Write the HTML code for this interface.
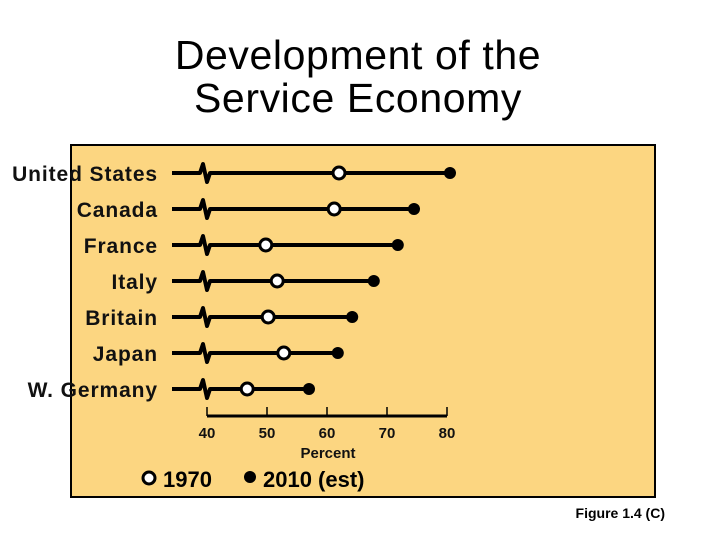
<!DOCTYPE html>
<html><head><meta charset="utf-8"><style>
body{margin:0;background:#fff;width:720px;height:540px;overflow:hidden}
svg{display:block;font-family:"Liberation Sans",Arial,sans-serif}
</style></head><body>
<svg id="chart" width="720" height="540">
<text x="358" y="69" font-size="41" text-anchor="middle" letter-spacing="0.6">Development of the</text>
<text x="358" y="112" font-size="41" text-anchor="middle" letter-spacing="0.6">Service Economy</text>
<rect x="71" y="145" width="584" height="352" fill="#fcd681" stroke="#000" stroke-width="2"/>
<g id="rows"></g>
<g id="axis"></g>
<text x="328" y="458" font-size="15" font-weight="bold" text-anchor="middle" fill="#111">Percent</text>
<g>
<circle cx="149" cy="478" r="6" fill="#fff" stroke="#000" stroke-width="3"/>
<text x="163" y="487" font-size="22" font-weight="bold">1970</text>
<circle cx="250" cy="477" r="6" fill="#000"/>
<text x="263" y="487" font-size="22" font-weight="bold">2010 (est)</text>
</g>
<text x="665" y="518" font-size="14" font-weight="bold" text-anchor="end">Figure 1.4 (C)</text>
</svg>
<script>
const countries=["United States","Canada","France","Italy","Britain","Japan","W. Germany"];
const v1970=[62,61.2,49.8,51.7,50.2,52.8,46.7];
const v2010=[80.5,74.5,71.8,67.8,64.2,61.8,57];
const ticks=[40,50,60,70,80];
const NS="http://www.w3.org/2000/svg";
const xs=v=>207+(v-40)*6;
const ys=i=>173+i*36;
function mk(t,a,p){const e=document.createElementNS(NS,t);for(const k in a)e.setAttribute(k,a[k]);p.appendChild(e);return e;}
const rows=document.getElementById('rows');
countries.forEach((c,i)=>{
  const y=ys(i);
  const g=mk('g',{},rows);
  
  
  const t=mk('text',{x:158,y:y+8,'font-size':21,'font-weight':'bold','text-anchor':'end','letter-spacing':0.9,fill:'#111'},g);
  t.textContent=c;
  
  
  const l=mk('path',{d:`M172 ${y}H200L203 ${y-9}L207 ${y+9}L210 ${y}H${xs(v2010[i])}`,stroke:'#000','stroke-width':4,fill:'none','stroke-linejoin':'round'},g);
  
  
  const f=mk('circle',{cx:xs(v2010[i]),cy:y,r:6,fill:'#000'},g);
  
  
  const o=mk('circle',{cx:xs(v1970[i]),cy:y,r:6,fill:'#fff',stroke:'#000','stroke-width':3},g);
  
  
});
const ax=document.getElementById('axis');
const al=mk('line',{x1:xs(40),x2:xs(80),y1:416,y2:416,stroke:'#000','stroke-width':3},ax);


ticks.forEach(t=>{
  const tk=mk('line',{x1:xs(t),x2:xs(t),y1:407,y2:416,stroke:'#000','stroke-width':1.5},ax);
  
  
  const tl=mk('text',{x:xs(t),y:438,'font-size':15,'font-weight':'bold','text-anchor':'middle',fill:'#111'},ax);
  tl.textContent=t;
  
  
});
</script>
</body></html>
